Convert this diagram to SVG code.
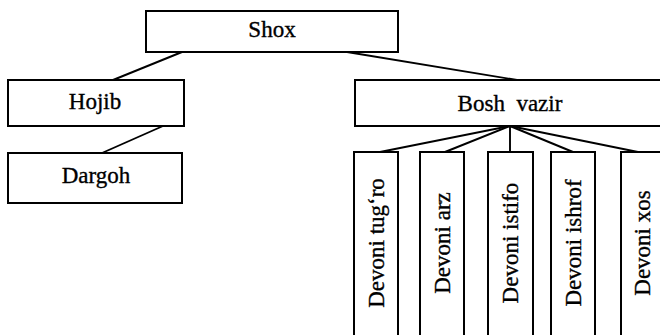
<svg xmlns="http://www.w3.org/2000/svg" width="660" height="335" viewBox="0 0 660 335">
<style>
.box{fill:#fff;stroke:#000;stroke-width:2}
.lbl{font-family:'Liberation Serif','Times New Roman','DejaVu Serif',serif;font-size:23px;fill:#000;stroke:#000;stroke-width:0.35;text-anchor:middle}
.con line{stroke:#000;stroke-width:1.9}
</style>
<rect width="660" height="335" fill="#fff"/>
<g id="connectors" class="con">
<line x1="182" y1="52" x2="113" y2="80"/>
<line x1="347" y1="52" x2="517" y2="80"/>
<line x1="163" y1="126" x2="102" y2="153"/>
<line x1="510" y1="126" x2="380" y2="152"/>
<line x1="510" y1="126" x2="445" y2="152"/>
<line x1="510" y1="126" x2="510" y2="152"/>
<line x1="510" y1="126" x2="573" y2="152"/>
<line x1="510" y1="126" x2="638" y2="152"/>
</g>
<g id="shox"><rect class="box" x="146" y="11" width="252" height="41"/><text class="lbl" x="272" y="37">Shox</text></g>
<g id="hojib"><rect class="box" x="8" y="80" width="176" height="46"/><text class="lbl" x="95" y="109">Hojib</text></g>
<g id="dargoh"><rect class="box" x="8" y="153" width="174" height="50"/><text class="lbl" x="96" y="183">Dargoh</text></g>
<g id="bosh-vazir"><rect class="box" x="355" y="80" width="320" height="46"/><text class="lbl" x="510" y="111" xml:space="preserve">Bosh  vazir</text></g>
<g id="devoni-tugro"><rect class="box" x="354" y="152" width="44" height="200"/><text class="lbl" transform="translate(384,243) rotate(-90)">Devoni tug‘ro</text></g>
<g id="devoni-arz"><rect class="box" x="420" y="152" width="44" height="200"/><text class="lbl" transform="translate(450,243) rotate(-90)">Devoni arz</text></g>
<g id="devoni-istifo"><rect class="box" x="488" y="152" width="45" height="200"/><text class="lbl" transform="translate(518,243) rotate(-90)">Devoni istifo</text></g>
<g id="devoni-ishrof"><rect class="box" x="551" y="152" width="44" height="200"/><text class="lbl" transform="translate(581,243) rotate(-90)">Devoni ishrof</text></g>
<g id="devoni-xos"><rect class="box" x="621" y="152" width="44" height="200"/><text class="lbl" transform="translate(650,243) rotate(-90)">Devoni xos</text></g>
</svg>
